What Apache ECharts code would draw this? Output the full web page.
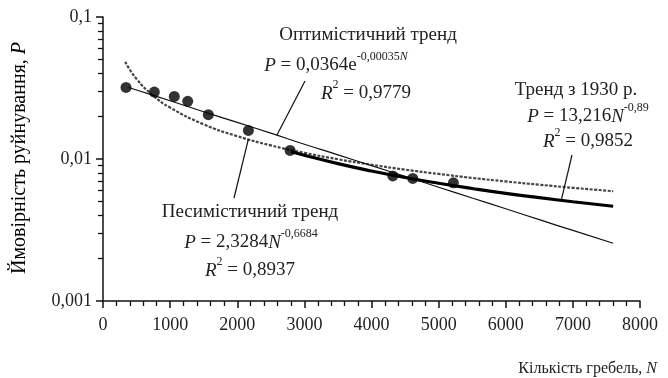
<!DOCTYPE html>
<html><head><meta charset="utf-8">
<script src="https://cdn.jsdelivr.net/npm/echarts@6/dist/echarts.min.js"></script>
<style>html,body{margin:0;padding:0;background:#fff}#c{width:668px;height:378px}</style>
</head><body><div id="c"></div>
<script>
// ---- data ----
const xTickValues = [0, 1000, 2000, 3000, 4000, 5000, 6000, 7000, 8000];
const yTickLabels = { 0.001: '0,001', 0.01: '0,01', 0.1: '0,1' };
// observed points
const damsN = [343, 765, 1062, 1262, 1569, 2166, 2787, 4317, 4615, 5220];
const failP = [0.0319, 0.0296, 0.0276, 0.0255, 0.0205, 0.0159, 0.0115, 0.0076, 0.0073, 0.0068];
// optimistic trend (thin line)
const optN = [380, 500, 1000, 1500, 2000, 2500, 3000, 3500, 4000, 4500, 5000, 5500, 6000, 6500, 7000, 7600];
const optP = [0.0319, 0.0306, 0.0257, 0.0215, 0.0181, 0.0152, 0.0127, 0.0107, 0.00898, 0.00754, 0.00633, 0.00531, 0.00446, 0.00374, 0.00314, 0.00255];
// pessimistic trend (grey dashed)
const pesN = [330, 500, 750, 1000, 1500, 2000, 2500, 3000, 3500, 4000, 4500, 5000, 5500, 6000, 6500, 7000, 7600];
const pesP = [0.0483, 0.0366, 0.0279, 0.0230, 0.01754, 0.01448, 0.01247, 0.01105, 0.00996, 0.00911, 0.00841, 0.00785, 0.00736, 0.00695, 0.00659, 0.00627, 0.00593];
// trend since 1930 (thick line)
const t30N = [2800, 3000, 3500, 4000, 4500, 5000, 5500, 6000, 6500, 7000, 7600];
const t30P = [0.01131, 0.01064, 0.00927, 0.00823, 0.00741, 0.00675, 0.00620, 0.00573, 0.00534, 0.00500, 0.00465];

const zip = (a, b) => a.map((v, i) => [v, b[i]]);
const SERIF = '"Liberation Serif", "Times New Roman", serif';
const TXT = '#222';

// minor log ticks (2..9 per decade), in log10 units for the helper axis
const minorLog = [];
[-3, -2].forEach(e => { for (let k = 2; k <= 9; k++) minorLog.push(Math.log10(k) + e); });

const chart = echarts.init(document.getElementById('c'), null, { renderer: 'canvas' });
chart.setOption({
  animation: false,
  backgroundColor: '#fff',
  grid: { left: 103, right: 28, top: 17, bottom: 77 },
  xAxis: {
    type: 'value', min: 0, max: 8000, interval: 1000,
    axisLine: { show: true, lineStyle: { color: '#111', width: 1.5 } },
    axisTick: { show: true, length: 7, lineStyle: { color: '#111', width: 1.5 } },
    minorTick: { show: true, splitNumber: 5, length: 5, lineStyle: { color: '#111', width: 1.3 } },
    splitLine: { show: false },
    axisLabel: { fontFamily: SERIF, fontSize: 18, color: TXT, margin: 15,
      formatter: v => String(xTickValues.indexOf(v) >= 0 ? v : v) }
  },
  yAxis: [{
    type: 'log', logBase: 10, min: 0.001, max: 0.1,
    axisLine: { show: true, lineStyle: { color: '#111', width: 1.5 } },
    axisTick: { show: true, length: 7, lineStyle: { color: '#111', width: 1.5 } },
    splitLine: { show: false },
    axisLabel: { fontFamily: SERIF, fontSize: 18, color: TXT, margin: 11,
      formatter: v => yTickLabels[v] || String(v).replace('.', ',') }
  }, {
    type: 'value', min: -3, max: -1, position: 'left',
    axisLine: { show: false },
    axisLabel: { show: false },
    splitLine: { show: false },
    axisTick: { show: true, length: 5, customValues: minorLog, lineStyle: { color: '#111', width: 1.3 } }
  }],
  series: [
    { type: 'line', name: 'pes', data: zip(pesN, pesP), showSymbol: false, smooth: true,
      lineStyle: { color: '#444', width: 2.2, type: [3, 1.5] }, z: 2 },
    { type: 'line', name: 'opt', data: zip(optN, optP), showSymbol: false, smooth: true,
      lineStyle: { color: '#111', width: 1.2 }, z: 3 },
    { type: 'line', name: 't30', data: zip(t30N, t30P), showSymbol: false, smooth: true,
      lineStyle: { color: '#000', width: 3.2 }, z: 4 },
    { type: 'scatter', name: 'obs', data: zip(damsN, failP), symbol: 'circle', symbolSize: 11,
      itemStyle: { color: '#000' }, z: 5 }
  ]
});

const px = (n, p) => chart.convertToPixel({ gridIndex: 0 }, [n, p]);
function mkRich(fs, sfs) {
  return {
    i: { fontFamily: SERIF, fontSize: fs, fontStyle: 'italic', color: TXT, lineHeight: fs + 5, verticalAlign: 'bottom' },
    n: { fontFamily: SERIF, fontSize: fs, color: TXT, lineHeight: fs + 5, verticalAlign: 'bottom' },
    s: { fontFamily: SERIF, fontSize: sfs, color: TXT, lineHeight: fs + 5, verticalAlign: 'top' },
    si: { fontFamily: SERIF, fontSize: sfs, fontStyle: 'italic', color: TXT, lineHeight: fs + 5, verticalAlign: 'top' }
  };
}
const eqRich = mkRich(19, 12);
function txt(x, y, text, align, rich) {
  return { type: 'text', x: x, y: y, z: 10,
    style: { text: text, align: align || 'center', verticalAlign: 'middle', rich: rich || eqRich,
      fontFamily: SERIF, fontSize: 19, fill: TXT } };
}
function leader(x1, y1, n, p) {
  const e = px(n, p);
  return { type: 'line', z: 9, shape: { x1: x1, y1: y1, x2: e[0], y2: e[1] },
    style: { stroke: '#111', lineWidth: 1.2 } };
}
chart.setOption({
  graphic: [
    txt(368, 33, '{n|Оптимістичний тренд}'),
    txt(336, 63, '{i|P}{n| = 0,0364e}{s|-0,00035}{si|N}'),
    txt(366, 91, '{i|R}{s|2}{n| = 0,9779}'),
    txt(576, 88, '{n|Тренд з 1930 р.}'),
    txt(588, 114, '{i|P}{n| = 13,216}{i|N}{s|-0,89}'),
    txt(588, 139, '{i|R}{s|2}{n| = 0,9852}'),
    txt(250, 210, '{n|Песимістичний тренд}'),
    txt(251, 240, '{i|P}{n| = 2,3284}{i|N}{s|-0,6684}'),
    txt(250, 268, '{i|R}{s|2}{n| = 0,8937}'),
    leader(305, 81, 2590, 0.0147),
    leader(234, 198, 2166, 0.0138),
    leader(572, 155, 6826, 0.0051),
    txt(657, 366, '{n|Кількість гребель, }{i|N}', 'right', mkRich(16, 10)),
    { type: 'text', x: 17, y: 158, rotation: Math.PI / 2, z: 10,
      style: { text: '{n|Ймовірність руйнування, }{i|P}', rich: mkRich(20, 12), align: 'center', verticalAlign: 'middle' } }
  ]
});
</script></body></html>
